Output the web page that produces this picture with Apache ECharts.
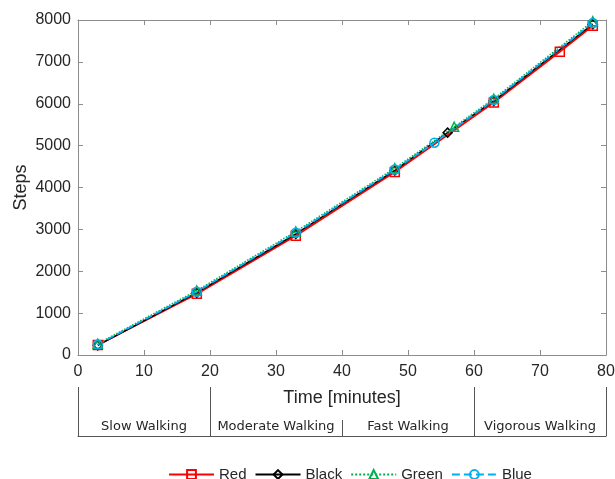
<!DOCTYPE html>
<html>
<head>
<meta charset="utf-8">
<script src="https://cdn.jsdelivr.net/npm/echarts@6/dist/echarts.min.js"></script>
<style>html,body{margin:0;padding:0;background:#fff}#c{width:615px;height:479px}</style>
</head>
<body>
<div id="c"></div>
<script>
var xRed = [3, 18, 33, 48, 63, 73, 78];
var red = [240, 1460, 2850, 4370, 6030, 7240, 7860];
var xBlack = [3, 18, 33, 48, 56, 63, 78];
var black = [230, 1490, 2890, 4410, 5310, 6070, 7900];
var xGreen = [3, 18, 33, 48, 57, 63, 78];
var green = [270, 1540, 2950, 4460, 5450, 6120, 7970];
var xBlue = [3, 18, 33, 48, 54, 63, 78];
var blue = [250, 1510, 2920, 4430, 5070, 6090, 7930];
var phases = ['Slow Walking', 'Moderate Walking', 'Fast Walking', 'Vigorous Walking'];
var seriesNames = ['Red', 'Black', 'Green', 'Blue'];

function pairs(xs, ys) { return xs.map(function (x, i) { return [x, ys[i]]; }); }

var axisGray = '#8c8c8c';
var divGray = '#555';
var txt = '#262626';
var font = 'Liberation Sans, Arial, sans-serif';
var plain = function (v) { return String(v); };

function mk(name, xs, ys, color, symbol, type, width) {
  return {
    name: name, type: 'line', xAxisIndex: 0, yAxisIndex: 0,
    data: pairs(xs, ys), color: color,
    symbol: symbol, symbolSize: 9,
    lineStyle: { color: color, width: width, type: type },
    itemStyle: { color: 'rgba(0,0,0,0)', borderColor: color, borderWidth: 1.5 },
    emphasis: { disabled: true }, animation: false
  };
}

var chart = echarts.init(document.getElementById('c'), null, { renderer: 'canvas' });
chart.setOption({
  backgroundColor: '#fff',
  animation: false,
  textStyle: { fontFamily: font },
  grid: [
    { left: 78, right: 9, top: 20, bottom: 124, containLabel: false, outerBoundsMode: 'none' },
    { left: 78, right: 9, top: 387, height: 49, containLabel: false, outerBoundsMode: 'none' },
    { left: 78, right: 9, top: 420, height: 16, containLabel: false, outerBoundsMode: 'none' }
  ],
  legend: {
    left: 163, top: 462, itemWidth: 45, itemHeight: 11, itemGap: 8,
    data: seriesNames,
    textStyle: { fontSize: 15, color: txt, fontFamily: font }
  },
  xAxis: [
    {
      type: 'value', gridIndex: 0, min: 0, max: 80, interval: 10,
      name: 'Time [minutes]', nameLocation: 'middle', nameGap: 34,
      nameTextStyle: { fontSize: 18, color: txt },
      axisLine: { show: true, onZero: false, lineStyle: { color: axisGray, width: 1 } },
      axisTick: { show: true, inside: true, length: 5, lineStyle: { color: axisGray } },
      axisLabel: { fontSize: 16, color: txt, margin: 9, formatter: plain },
      splitLine: { show: false }
    },
    {
      type: 'value', gridIndex: 0, position: 'top', min: 0, max: 80, interval: 10,
      axisLine: { show: true, onZero: false, lineStyle: { color: axisGray, width: 1 } },
      axisTick: { show: true, inside: true, length: 5, lineStyle: { color: axisGray } },
      axisLabel: { show: false }, splitLine: { show: false }
    },
    {
      type: 'category', gridIndex: 1, data: phases, boundaryGap: true,
      axisLine: { show: false, onZero: false },
      axisTick: { show: true, inside: true, length: 49, lineStyle: { color: divGray, width: 1 },
        interval: function (i) { return i !== 2; } },
      axisLabel: { show: false },
      splitLine: { show: false }
    },
    {
      type: 'category', gridIndex: 2, data: phases, boundaryGap: true,
      axisLine: { show: true, onZero: false, lineStyle: { color: divGray, width: 1 } },
      axisTick: { show: true, inside: true, length: 16, lineStyle: { color: divGray, width: 1 },
        interval: function (i) { return i === 0 || i === 2; } },
      axisLabel: { inside: true, margin: 3, fontSize: 13, color: txt, fontFamily: 'DejaVu Sans', interval: 0 },
      splitLine: { show: false }
    }
  ],
  yAxis: [
    {
      type: 'value', gridIndex: 0, min: 0, max: 8000, interval: 1000,
      name: 'Steps', nameLocation: 'middle', nameGap: 48, nameMoveOverlap: false,
      nameTextStyle: { fontSize: 18, color: txt },
      axisLine: { show: true, onZero: false, lineStyle: { color: axisGray, width: 1 } },
      axisTick: { show: true, inside: true, length: 5, lineStyle: { color: axisGray } },
      axisLabel: { fontSize: 16, color: txt, margin: 7, formatter: plain },
      splitLine: { show: false }
    },
    {
      type: 'value', gridIndex: 0, position: 'right', min: 0, max: 8000, interval: 1000,
      axisLine: { show: true, onZero: false, lineStyle: { color: axisGray, width: 1 } },
      axisTick: { show: true, inside: true, length: 5, lineStyle: { color: axisGray } },
      axisLabel: { show: false }, splitLine: { show: false }
    },
    { type: 'value', gridIndex: 1, min: 0, max: 1, show: false },
    { type: 'value', gridIndex: 2, min: 0, max: 1, show: false }
  ],
  series: [
    mk('Red', xRed, red, '#ff0000', 'rect', 'solid', 1.8),
    mk('Black', xBlack, black, '#000000', 'diamond', 'solid', 1.5),
    mk('Green', xGreen, green, '#00b050', 'triangle', 'dotted', 1.5),
    mk('Blue', xBlue, blue, '#00b0f0', 'circle', 'dashed', 1.8)
  ]
});
</script>
</body>
</html>
